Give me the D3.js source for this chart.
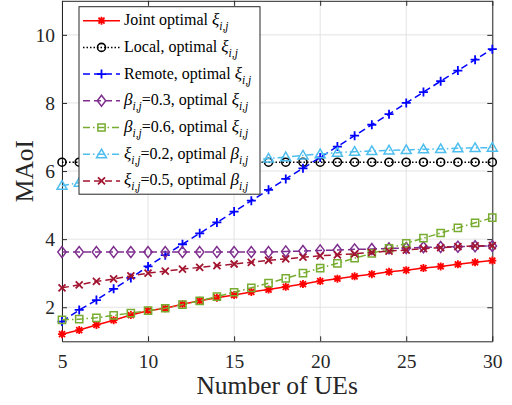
<!DOCTYPE html>
<html>
<head>
<meta charset="utf-8">
<script src="https://cdn.jsdelivr.net/npm/d3@7"></script>
<style>
body { margin:0; background:#fff; }
svg, svg text { font-family:"Liberation Serif", "Times New Roman", serif; }
</style>
</head>
<body>
<svg id="chart" width="512" height="405"></svg>
<script>
// number of UEs on the x axis
const ues = [5,6,7,8,9,10,11,12,13,14,15,16,17,18,19,20,21,22,23,24,25,26,27,28,29,30];

const joint  = [1.21,1.33,1.48,1.62,1.77,1.9,1.97,2.09,2.19,2.28,2.36,2.45,2.52,2.6,2.68,2.77,2.84,2.91,2.97,3.04,3.09,3.15,3.2,3.26,3.32,3.37];
const local  = [6.26,6.26,6.26,6.26,6.26,6.26,6.26,6.26,6.26,6.26,6.26,6.26,6.26,6.26,6.26,6.26,6.26,6.26,6.26,6.26,6.26,6.26,6.26,6.26,6.26,6.26];
const remote = [1.58,1.92,2.21,2.54,2.86,3.2,3.53,3.85,4.17,4.49,4.81,5.13,5.45,5.77,6.08,6.4,6.72,7.04,7.36,7.67,8.0,8.32,8.64,8.95,9.27,9.58];
const beta03 = [3.62,3.62,3.62,3.62,3.62,3.62,3.62,3.62,3.62,3.62,3.62,3.62,3.62,3.64,3.65,3.67,3.68,3.7,3.71,3.73,3.74,3.76,3.77,3.78,3.79,3.8];
const beta06 = [1.63,1.65,1.69,1.76,1.83,1.9,1.97,2.08,2.19,2.31,2.44,2.57,2.71,2.85,3.0,3.15,3.29,3.44,3.58,3.73,3.88,4.03,4.18,4.33,4.48,4.63];
const xi02   = [5.57,5.66,5.75,5.83,5.91,5.98,6.05,6.11,6.17,6.22,6.27,6.32,6.37,6.41,6.46,6.5,6.54,6.57,6.59,6.61,6.62,6.64,6.65,6.67,6.68,6.69];
const xi05   = [2.57,2.66,2.76,2.83,2.92,3.0,3.06,3.12,3.17,3.22,3.27,3.32,3.38,3.42,3.47,3.51,3.54,3.57,3.61,3.65,3.68,3.72,3.75,3.78,3.8,3.81];

const xTicks = [5,10,15,20,25,30];
const yTicks = [2,4,6,8,10];

// legend labels: plain text, italic greek, subscript
const labels = [
    [["Joint optimal ",""],["ξ","i"],["i,j","s"]],
    [["Local, optimal ",""],["ξ","i"],["i,j","s"]],
    [["Remote, optimal ",""],["ξ","i"],["i,j","s"]],
    [["β","i"],["i,j","s"],["=0.3, optimal ",""],["ξ","i"],["i,j","s"]],
    [["β","i"],["i,j","s"],["=0.6, optimal ",""],["ξ","i"],["i,j","s"]],
    [["ξ","i"],["i,j","s"],["=0.2, optimal ",""],["β","i"],["i,j","s"]],
    [["ξ","i"],["i,j","s"],["=0.5, optimal ",""],["β","i"],["i,j","s"]]
];

const series = [
    {values: joint,  color:"#ff0000", dash:null,      marker:"star"},
    {values: local,  color:"#000000", dash:"1.5,2",   marker:"circle"},
    {values: remote, color:"#0000ff", dash:"7,4",     marker:"plus"},
    {values: beta03, color:"#7e2f8e", dash:"7,4",     marker:"diamond"},
    {values: beta06, color:"#77ac30", dash:"7,3,1.5,3", marker:"square"},
    {values: xi02,   color:"#4dbeee", dash:"7,3,1.5,3", marker:"triangle"},
    {values: xi05,   color:"#a2142f", dash:"7,4",     marker:"cross"}
];

const plot = {left:62, right:492.3, top:0.8, bottom:341.3};
const axisColor = "#262626";
const serif = "Liberation Serif";

const svg = d3.select("#chart");
const x = d3.scaleLinear().domain([5,30]).range([plot.left, plot.right]);
const y = d3.scaleLinear().domain([1,11]).range([plot.bottom, plot.top]);

// grid
const grid = svg.append("g").attr("stroke","#e3e3e3").attr("stroke-width",1);
grid.selectAll(".gx").data(xTicks).join("line")
    .attr("x1", d => x(d)).attr("x2", d => x(d))
    .attr("y1", plot.top).attr("y2", plot.bottom);
grid.selectAll(".gy").data(yTicks).join("line")
    .attr("x1", plot.left).attr("x2", plot.right)
    .attr("y1", d => y(d)).attr("y2", d => y(d));

// axes (ticks inward on all four sides)
const axes = svg.append("g");
axes.append("g")
    .attr("transform", `translate(0,${plot.bottom})`)
    .call(d3.axisBottom(x).tickValues(xTicks).tickSize(-5).tickSizeOuter(0).tickPadding(13));
axes.append("g")
    .attr("transform", `translate(${plot.left},0)`)
    .call(d3.axisLeft(y).tickValues(yTicks).tickSize(-5).tickSizeOuter(0).tickPadding(7));
axes.append("g")
    .attr("transform", `translate(0,${plot.top})`)
    .call(d3.axisTop(x).tickValues(xTicks).tickSize(-5).tickSizeOuter(0).tickFormat(""));
axes.append("g")
    .attr("transform", `translate(${plot.right},0)`)
    .call(d3.axisRight(y).tickValues(yTicks).tickSize(-5).tickSizeOuter(0).tickFormat(""));
axes.selectAll("g").attr("font-family", serif).attr("font-size", 19.5);
axes.selectAll("path, line").attr("stroke", axisColor).attr("stroke-width", 1);
axes.selectAll("text")
    .attr("fill", axisColor)
    .attr("font-family", serif)
    .attr("font-size", 19.5);

// axis labels
svg.append("text")
    .attr("x", (plot.left + plot.right)/2)
    .attr("y", 394)
    .attr("text-anchor", "middle")
    .attr("fill", axisColor)
    .attr("font-family", serif)
    .attr("font-size", 25.5)
    .text("Number of UEs");
svg.append("text")
    .attr("transform", `translate(33,${(plot.top + plot.bottom)/2}) rotate(-90)`)
    .attr("text-anchor", "middle")
    .attr("fill", axisColor)
    .attr("font-family", serif)
    .attr("font-size", 25.5)
    .text("MAoI");

function drawMarker(g, type, color){
    const p = g.append("path").attr("fill","none").attr("stroke",color).attr("stroke-width",1.5);
    if (type === "star") p.attr("d","M-4,0H4M0,-4V4M-3,-3L3,3M-3,3L3,-3").attr("stroke-width",1.8);
    else if (type === "circle") { p.remove(); g.append("circle").attr("r",4).attr("fill","none").attr("stroke",color).attr("stroke-width",1.6); }
    else if (type === "plus") p.attr("d","M-4.5,0H4.5M0,-4.5V4.5").attr("stroke-width",1.8);
    else if (type === "diamond") p.attr("d","M0,-5.5L4.2,0L0,5.5L-4.2,0Z");
    else if (type === "square") p.attr("d","M-3.6,-3.6H3.6V3.6H-3.6Z");
    else if (type === "triangle") p.attr("d","M0,-5L5,3.6H-5Z");
    else if (type === "cross") p.attr("d","M-3.5,-3.5L3.5,3.5M-3.5,3.5L3.5,-3.5").attr("stroke-width",1.8);
}

// data
const line = d3.line().x((d,i) => x(ues[i])).y(d => y(d));
series.forEach(s => {
    const g = svg.append("g");
    g.append("path")
        .attr("d", line(s.values))
        .attr("fill","none")
        .attr("stroke", s.color)
        .attr("stroke-width", 1.5)
        .attr("stroke-dasharray", s.dash);
    s.values.forEach((v,i) => {
        drawMarker(g.append("g").attr("transform",`translate(${x(ues[i])},${y(v)})`), s.marker, s.color);
    });
});

// legend
const legend = svg.append("g");
legend.append("rect")
    .attr("x",79).attr("y",6.7).attr("width",181).attr("height",187.5)
    .attr("fill","#fff").attr("stroke",axisColor).attr("stroke-width",1);
series.forEach((s,i) => {
    const cy = 20.7 + i*26.7;
    legend.append("line")
        .attr("x1",83).attr("x2",120).attr("y1",cy).attr("y2",cy)
        .attr("stroke",s.color).attr("stroke-width",1.5)
        .attr("stroke-dasharray", s.dash);
    drawMarker(legend.append("g").attr("transform",`translate(101.5,${cy})`), s.marker, s.color);
    const t = legend.append("text")
        .attr("x",124).attr("y",cy+4.5)
        .attr("fill","#000")
        .attr("font-family", serif)
        .attr("font-size",16);
    let shifted = false;
    labels[i].forEach(([str, kind]) => {
        const ts = t.append("tspan").text(str);
        if (kind === "s") {
            ts.attr("dy", 5).attr("font-size",11.5).attr("font-style","italic");
            shifted = true;
        } else {
            if (shifted) { ts.attr("dy", -5); shifted = false; }
            if (kind === "i") ts.attr("font-style","italic").attr("font-size",17);
        }
    });
});
</script>
</body>
</html>
